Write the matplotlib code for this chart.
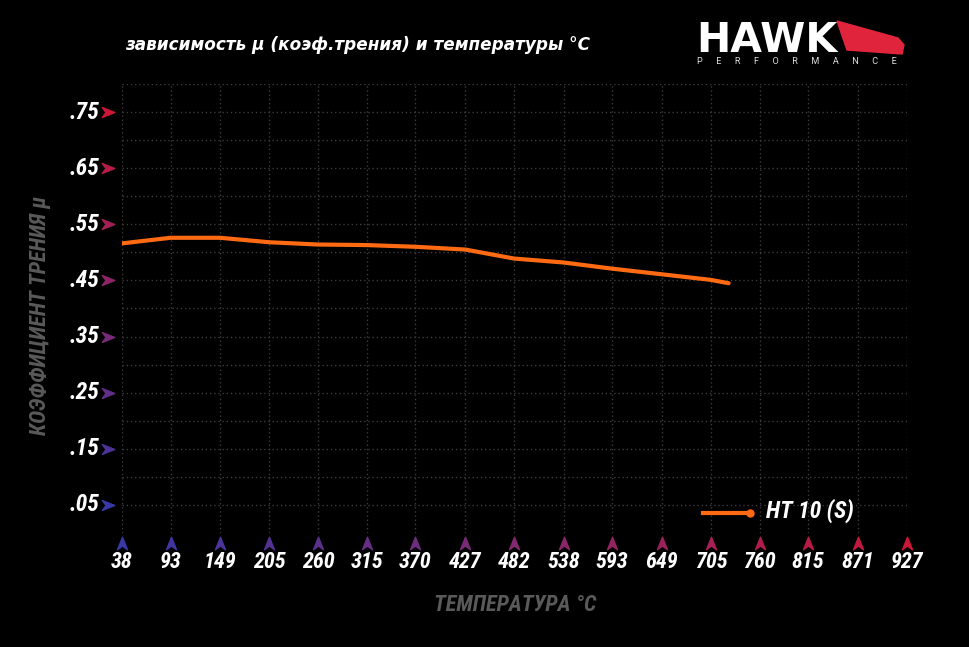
import numpy as np
import matplotlib
matplotlib.use("Agg")
import matplotlib.pyplot as plt
from matplotlib.path import Path
from matplotlib.patches import Polygon
from matplotlib.transforms import blended_transform_factory

# --- data ---
temps = [38, 93, 149, 205, 260, 315, 370, 427, 482, 538, 593, 649, 705, 725]
mu = [0.516, 0.526, 0.526, 0.518, 0.514, 0.513, 0.510, 0.505, 0.489, 0.482,
      0.471, 0.461, 0.451, 0.445]
series_name = "HT 10 (S)"

x_ticks = [38, 93, 149, 205, 260, 315, 370, 427, 482, 538, 593, 649, 705,
           760, 815, 871, 927]
y_ticks = [0.05, 0.15, 0.25, 0.35, 0.45, 0.55, 0.65, 0.75]
y_tick_labels = [".05", ".15", ".25", ".35", ".45", ".55", ".65", ".75"]

title = "зависимость μ (коэф.трения) и температуры °C"
x_label = "ТЕМПЕРАТУРА °C"
y_label = "КОЭФФИЦИЕНТ ТРЕНИЯ μ"

NARROW = ["Roboto Condensed", "DejaVu Sans"]
WIDE = ["Roboto", "DejaVu Sans"]
ORANGE = "#ff6a13"
GRID = "#3c3c3c"

fig = plt.figure(figsize=(9.7, 6.47), dpi=100, facecolor="black")
ax = fig.add_axes([122 / 970, 1 - 533 / 647, 785 / 970, 449 / 647])
ax.set_facecolor("black")
ax.set_xlim(38, 927)
ax.set_ylim(0, 0.80)
for s in ax.spines.values():
    s.set_visible(False)
ax.set_xticks([])
ax.set_yticks([])

# dotted grid
for xv in x_ticks:
    ax.axvline(xv, color=GRID, lw=1, ls=(0, (1, 2)), zorder=1)
for yv in np.arange(0.05, 0.81, 0.05):
    ax.axhline(yv, color=GRID, lw=1, ls=(0, (1, 2)), zorder=1)

# arrow-head tick markers, blue -> red
right_arrow = Path([(-1, 0.8), (1, 0), (-1, -0.8), (-0.4, 0), (-1, 0.8)],
                   [Path.MOVETO, Path.LINETO, Path.LINETO, Path.LINETO, Path.CLOSEPOLY])
up_arrow = Path([(0.8, -1), (0, 1), (-0.8, -1), (0, -0.4), (0.8, -1)],
                [Path.MOVETO, Path.LINETO, Path.LINETO, Path.LINETO, Path.CLOSEPOLY])
blue = np.array([0.22, 0.22, 0.66])
red = np.array([0.80, 0.09, 0.22])

ty = blended_transform_factory(ax.transAxes, ax.transData)
for i, (yv, lab) in enumerate(zip(y_ticks, y_tick_labels)):
    c = blue + (red - blue) * i / (len(y_ticks) - 1)
    ax.plot(-0.018, yv, marker=right_arrow, ms=9, color=c, transform=ty,
            clip_on=False, zorder=3)
    ax.text(-0.029, yv, lab, transform=ty, ha="right", va="center", color="white",
            fontsize=17, fontweight="bold", style="italic", family=NARROW)

tx = blended_transform_factory(ax.transData, ax.transAxes)
for i, xv in enumerate(x_ticks):
    c = blue + (red - blue) * i / (len(x_ticks) - 1)
    ax.plot(xv, -0.022, marker=up_arrow, ms=9, color=c, transform=tx,
            clip_on=False, zorder=3)
    ax.text(xv, -0.065, str(xv), transform=tx, ha="center", va="center",
            color="white", fontsize=16, fontweight="bold", style="italic",
            family=NARROW)

# the curve
ax.plot(temps, mu, color=ORANGE, lw=3, solid_capstyle="round",
        solid_joinstyle="round", zorder=4)

# legend
fig.add_artist(plt.Line2D([703 / 970, 750 / 970], [1 - 513 / 647] * 2,
                          color=ORANGE, lw=3))
fig.add_artist(plt.Line2D([750 / 970], [1 - 513 / 647], marker="o", ms=5,
                          color=ORANGE))
fig.text(766 / 970, 1 - 511 / 647, series_name, ha="left", va="center",
         color="white", fontsize=17, fontweight="bold", style="italic",
         family=NARROW)

# titles / axis labels
fig.text(125 / 970, 1 - 45 / 647, title, ha="left", va="center", color="white",
         fontsize=12.2, fontweight="bold", style="italic", family=["DejaVu Sans"])
fig.text(515 / 970, 1 - 605 / 647, x_label, ha="center", va="center",
         color="#5a5a5a", fontsize=16, fontweight="bold", style="italic",
         family=NARROW)
fig.text(40 / 970, 1 - 315 / 647, y_label, ha="center", va="center",
         rotation=90, color="#5a5a5a", fontsize=16, fontweight="bold",
         style="italic", family=NARROW)

# logo
fig.text(696 / 970, 1 - 52 / 647, "HAWK", ha="left", va="baseline",
         color="white", fontsize=29.5, fontweight="bold", family=["DejaVu Sans"])
wing = [(837, 21), (898, 38), (904, 45), (902, 54), (847, 50)]
fig.add_artist(Polygon([(x / 970, 1 - y / 647) for x, y in wing],
                       closed=True, color="#e0243c"))
fig.text(697 / 970, 1 - 62 / 647, "      ".join("PERFORMANCE"), ha="left",
         va="center", color="#dddddd", fontsize=6.6, family=WIDE)

fig.savefig("out.png", dpi=100, facecolor="black")
